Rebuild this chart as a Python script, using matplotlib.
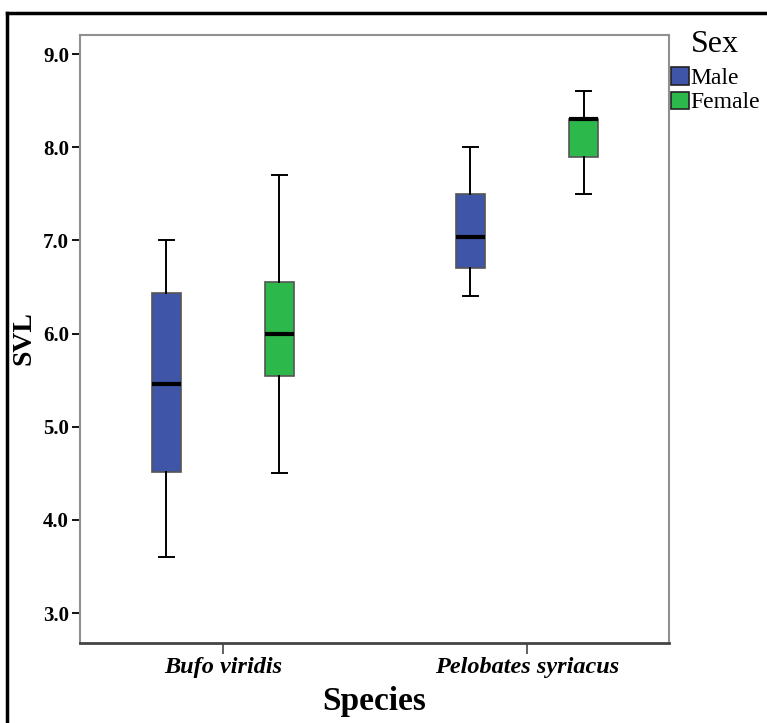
import matplotlib
matplotlib.use("Agg")
from matplotlib import pyplot as plt
from matplotlib.patches import Patch
from matplotlib.lines import Line2D

species = ['Bufo viridis', 'Pelobates syriacus']
sexes = ['Male', 'Female']
colors = ['#3F56A8', '#2DB84B']

# box summaries (min, q1, median, q3, max)
male_low = [3.6, 6.4]
male_q1 = [4.52, 6.70]
male_med = [5.46, 7.04]
male_q3 = [6.44, 7.50]
male_high = [7.0, 8.0]

female_low = [4.5, 7.5]
female_q1 = [5.55, 7.90]
female_med = [6.0, 8.30]
female_q3 = [6.55, 8.30]
female_high = [7.7, 8.6]

yticks = [3.0, 4.0, 5.0, 6.0, 7.0, 8.0, 9.0]

plt.rcParams['font.family'] = ['Liberation Serif', 'DejaVu Serif']

fig = plt.figure(figsize=(7.67, 7.23), dpi=100)
ax = fig.add_axes([80/767, 1 - 643/723, 589/767, 608/723])

def stats(low, q1, med, q3, high):
    return [dict(whislo=a, q1=b, med=c, q3=d, whishi=e, fliers=[])
            for a, b, c, d, e in zip(low, q1, med, q3, high)]

offset = 0.186
width = 0.095
groups = [
    (stats(male_low, male_q1, male_med, male_q3, male_high), -offset, colors[0]),
    (stats(female_low, female_q1, female_med, female_q3, female_high), offset, colors[1]),
]
for st, off, col in groups:
    pos = [i + off for i in range(len(species))]
    ax.bxp(st, positions=pos, widths=width, patch_artist=True, manage_ticks=False,
           boxprops=dict(facecolor=col, edgecolor='#555555', linewidth=1.2),
           medianprops=dict(color='black', linewidth=3, solid_capstyle='butt'),
           whiskerprops=dict(color='black', linewidth=1.4),
           capprops=dict(color='black', linewidth=1.4))

ax.set_xlim(-0.47, 1.467)
ax.set_ylim(2.68, 9.204)
ax.set_yticks(yticks)
ax.set_yticklabels(['%.1f' % v for v in yticks], fontsize=15, fontweight='bold')
ax.set_xticks(range(len(species)))
ax.set_xticklabels(species, fontsize=17.5, fontweight='bold', style='italic')
ax.tick_params(axis='y', length=6, width=1.3, pad=2, color='black')
ax.tick_params(axis='x', length=8, width=1.3, pad=2, color='#555555')

for s in ['top', 'left', 'right']:
    ax.spines[s].set_color('#909090')
    ax.spines[s].set_linewidth(1.5)
ax.spines['bottom'].set_color('#444444')
ax.spines['bottom'].set_linewidth(2)

ax.set_xlabel('Species', fontsize=24, fontweight='bold', labelpad=6)
fig.text(24/767, 1 - 338/723, 'SVL', rotation=90, fontsize=20, fontweight='bold',
         ha='center', va='center')

handles = [Patch(facecolor=c, edgecolor='#222222', linewidth=1.2) for c in colors]
leg = fig.legend(handles, sexes, title='Sex', loc='upper left',
                 bbox_to_anchor=(671/767, 1 - 30/723), frameon=False,
                 fontsize=17, title_fontsize=23, handlelength=0.75, handleheight=0.75,
                 handletextpad=0.05, labelspacing=0.1, borderpad=0, borderaxespad=0)
leg._legend_box.sep = 6

# outer frame (only left and top edges visible)
fig.add_artist(Line2D([7/767, 7/767], [0, 1 - 13/723], transform=fig.transFigure,
                      color='black', linewidth=2.5))
fig.add_artist(Line2D([7/767, 1], [1 - 13/723, 1 - 13/723], transform=fig.transFigure,
                      color='black', linewidth=2.5))

fig.savefig('out.png', dpi=100)
